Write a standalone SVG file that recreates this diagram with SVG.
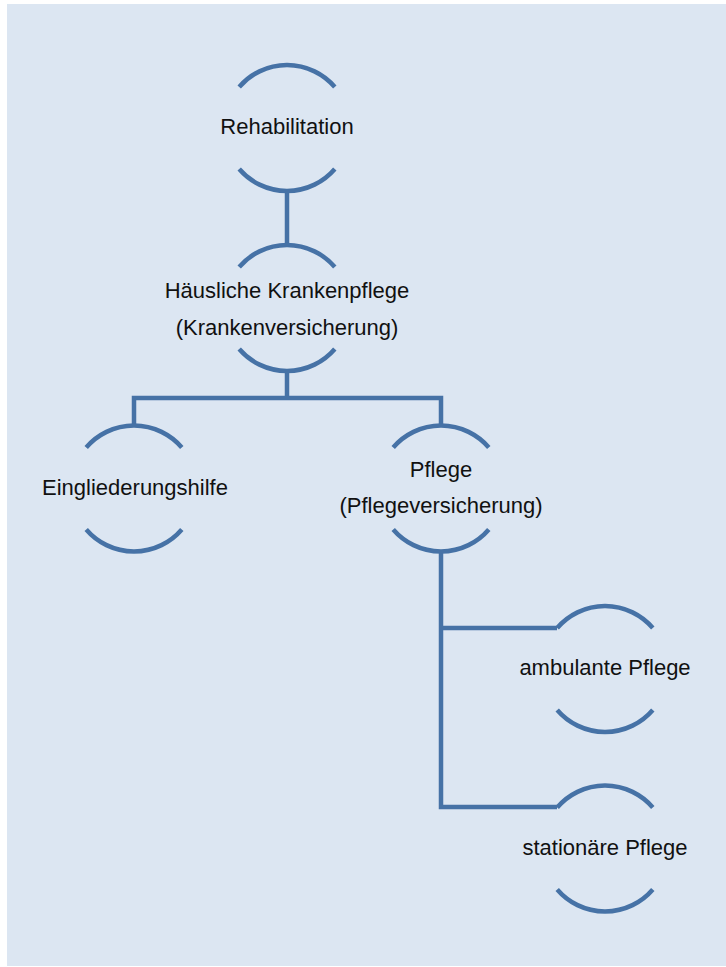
<svg xmlns="http://www.w3.org/2000/svg" width="726" height="967" viewBox="0 0 726 967">
<style>
.arc{fill:none;stroke:#4672a6;stroke-width:4.5;}
.ln{fill:none;stroke:#4672a6;stroke-width:4.5;stroke-linejoin:miter;}
.t{font-family:"Liberation Sans",Arial,sans-serif;font-size:22px;fill:#111;text-anchor:middle;}
</style>
<rect x="0" y="0" width="726" height="967" fill="#ffffff"/>
<rect x="7" y="4" width="719" height="962" fill="#dce6f2"/>
<g id="connectors">
<path class="ln" d="M287,191 V245"/>
<path class="ln" d="M287,371 V398 M134,425.5 V398 H441 V425.5"/>
<path class="ln" d="M441,551.5 V807 H557 M441,628 H557"/>
</g>
<g id="n-rehabilitation">
<path class="arc" d="M239.2,87 A63,63 0 0 1 334.8,87"/>
<path class="arc" d="M239.2,169 A63,63 0 0 0 334.8,169"/>
<text class="t" x="287" y="134">Rehabilitation</text>
</g>
<g id="n-haeusliche">
<path class="arc" d="M239.2,267 A63,63 0 0 1 334.8,267"/>
<path class="arc" d="M239.2,349 A63,63 0 0 0 334.8,349"/>
<text class="t" x="287" y="298">Häusliche Krankenpflege</text>
<text class="t" x="287" y="335">(Krankenversicherung)</text>
</g>
<g id="n-eingliederung">
<path class="arc" d="M86.2,447.5 A63,63 0 0 1 181.8,447.5"/>
<path class="arc" d="M86.2,529.5 A63,63 0 0 0 181.8,529.5"/>
<text class="t" x="135" y="495">Eingliederungshilfe</text>
</g>
<g id="n-pflege">
<path class="arc" d="M393.2,447.5 A63,63 0 0 1 488.8,447.5"/>
<path class="arc" d="M393.2,529.5 A63,63 0 0 0 488.8,529.5"/>
<text class="t" x="441" y="477">Pflege</text>
<text class="t" x="441" y="513">(Pflegeversicherung)</text>
</g>
<g id="n-ambulant">
<path class="arc" d="M557.2,628 A63,63 0 0 1 652.8,628"/>
<path class="arc" d="M557.2,710 A63,63 0 0 0 652.8,710"/>
<text class="t" x="605" y="675">ambulante Pflege</text>
</g>
<g id="n-stationaer">
<path class="arc" d="M557.2,807.5 A63,63 0 0 1 652.8,807.5"/>
<path class="arc" d="M557.2,889.5 A63,63 0 0 0 652.8,889.5"/>
<text class="t" x="605" y="855">stationäre Pflege</text>
</g>
</svg>
